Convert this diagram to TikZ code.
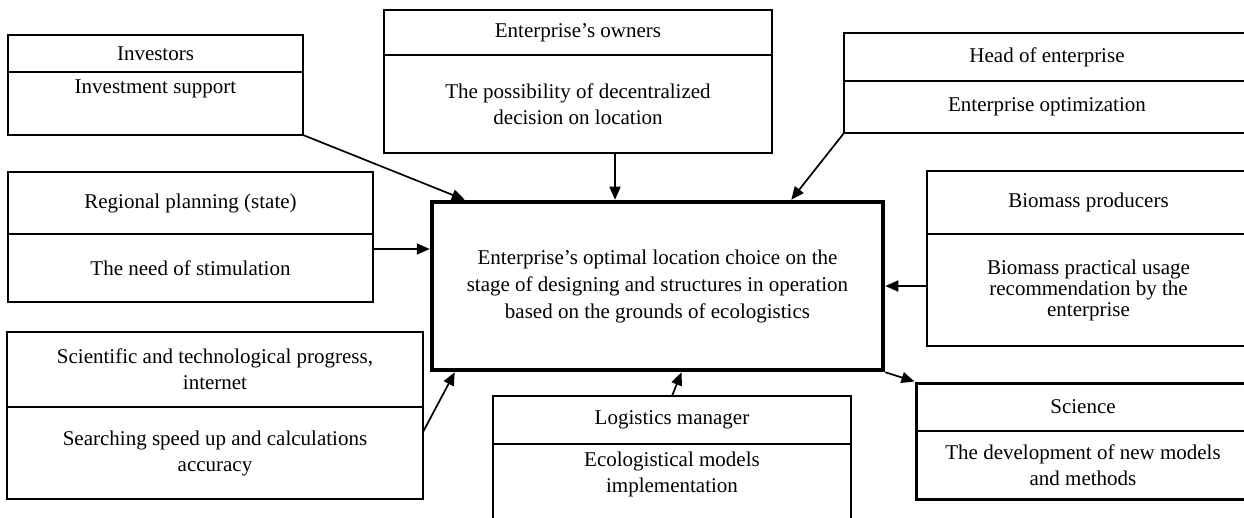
\documentclass[tikz,border=0pt]{standalone}
\usepackage{fontspec}
\setmainfont{Liberation Serif}
\usetikzlibrary{
	positioning,
	arrows.meta,
	fit
}

\begin{document}
\begin{tikzpicture}[
	x=1pt, y=1pt,
	node distance = 0pt and 0pt,
	cell/.style = {
		rectangle, draw, line width=1.3pt,
		outer sep=0pt, inner sep=2pt,
		align=center, anchor=north west,
		font=\fontsize{21}{26}\selectfont
	},
	arr/.style = {-{Triangle[length=13pt,width=11pt]}, line width=1.7pt}
]
	\useasboundingbox (0,0) rectangle (1244,517);

	\node (inv) [cell, minimum width=295pt, minimum height=37pt] at (8,482) {Investors};
		\node (invB) [cell, below right=of inv.south west, minimum width=295pt, minimum height=63pt] {Investment support\\ \strut};

	\node (own) [cell, minimum width=388pt, minimum height=45pt] at (384,507) {Enterprise’s owners};
		\node (ownB) [cell, below right=of own.south west, minimum width=388pt, minimum height=98pt] {The possibility of decentralized\\decision on location};

	\node (hoe) [cell, minimum width=406pt, minimum height=48pt] at (844,484) {Head of enterprise};
		\node (hoeB) [cell, below right=of hoe.south west, minimum width=406pt, minimum height=52pt] {Enterprise optimization};

	\node (reg) [cell, minimum width=365pt, minimum height=62pt] at (8,345) {Regional planning (state)};
		\node (regB) [cell, below right=of reg.south west, minimum width=365pt, minimum height=68pt] {The need of stimulation};

	\node (bio) [cell, minimum width=323pt, minimum height=63pt] at (927,346) {Biomass producers};
		\node (bioB) [cell, below right=of bio.south west, minimum width=323pt, minimum height=112pt, font=\fontsize{21}{21}\selectfont] {Biomass practical usage\\recommendation by the\\enterprise};

	\node (ctr) [rectangle, draw, line width=4.5pt, align=center, minimum width=451pt, minimum height=168pt, font=\fontsize{21}{27}\selectfont] at (657.5,231) {Enterprise’s optimal location choice on the\\stage of designing and structures in operation\\based on the grounds of ecologistics};

	\node (sci) [cell, minimum width=416pt, minimum height=75pt] at (7,185) {Scientific and technological progress,\\internet};
		\node (sciB) [cell, below right=of sci.south west, minimum width=416pt, minimum height=92pt] {Searching speed up and calculations\\accuracy};

	\node (log) [cell, minimum width=358pt, minimum height=48pt] at (493,121) {Logistics manager};
		\node (logB) [cell, below right=of log.south west, minimum width=358pt, minimum height=90pt] {Ecologistical models\\implementation\\ \strut};

	\node (scn) [cell, minimum width=334pt, minimum height=48pt] at (916,134) {Science};
		\node (scnB) [cell, below right=of scn.south west, minimum width=334pt, minimum height=68pt] {The development of new models\\and methods};
		\node (scnF) [fit=(scn)(scnB), draw, line width=3pt, inner sep=0pt] {};

	\draw [arr] (invB.south east) -- ([xshift=35pt]ctr.north west);
	\draw [arr] ([xshift=37pt]ownB.south) -- ([xshift=37pt]ownB.south |- ctr.north);
	\draw [arr] (hoeB.south west) -- ([xshift=-94pt]ctr.north east);
	\draw [arr] ([yshift=19pt]regB.east) -- ([yshift=19pt]regB.east -| ctr.west);
	\draw [arr] ([yshift=4pt]bioB.west) -- ([yshift=4pt]bioB.west -| ctr.east);
	\draw [arr] ([yshift=21pt]sciB.east) -- ([xshift=25pt]ctr.south west);
	\draw [arr] (log.north) -- ([xshift=24pt]ctr.south);
	\draw [arr] (ctr.south east) -- (scnF.north west);
\end{tikzpicture}
\end{document}
